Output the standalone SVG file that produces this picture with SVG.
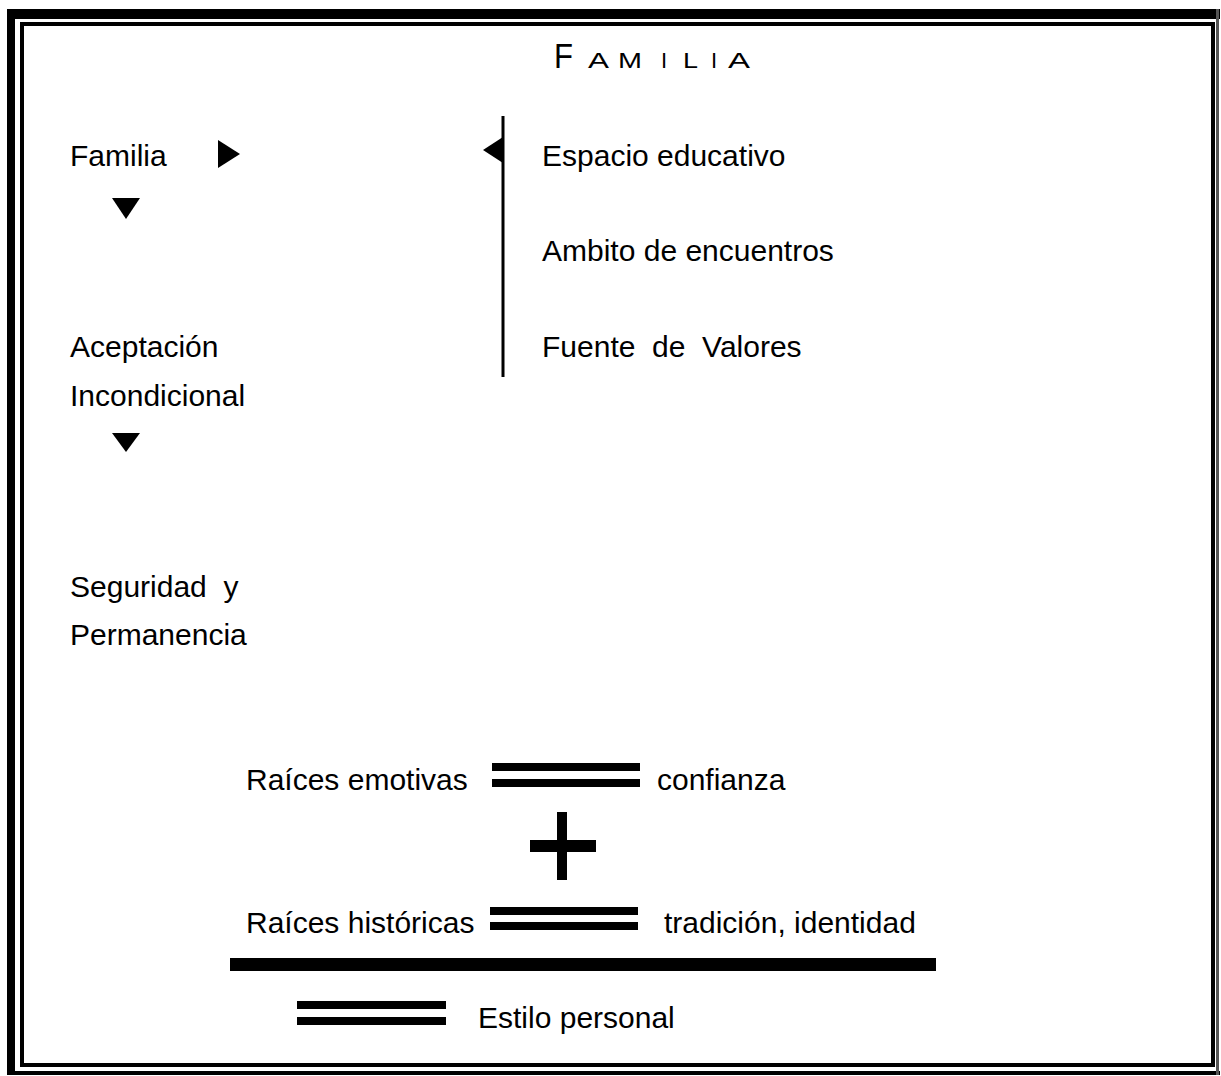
<svg xmlns="http://www.w3.org/2000/svg" width="1221" height="1076" viewBox="0 0 1221 1076">
<style>
text{font-family:"Liberation Sans",Arial,sans-serif;fill:#000}
.t{font-size:30px;white-space:pre}
.cap{font-size:22px}
.bar{fill:#000}
.tri{fill:#000}
</style>
<rect width="1221" height="1076" fill="#fff"/>
<g id="frame">
<rect x="7" y="9" width="1213" height="10" fill="#000"/>
<rect x="7" y="9" width="8" height="1066" fill="#000"/>
<rect x="7" y="1071" width="1213" height="4" fill="#000"/>
<rect x="1216" y="9" width="3" height="1066" fill="#555"/>
<rect x="22" y="24" width="1191" height="1041" fill="none" stroke="#000" stroke-width="4"/>
</g>
<g id="title">
<text x="554" y="68" font-size="35" textLength="19" lengthAdjust="spacingAndGlyphs">F</text>
<text class="cap" x="588" y="68" textLength="21" lengthAdjust="spacingAndGlyphs">A</text>
<text class="cap" x="618" y="68" textLength="24" lengthAdjust="spacingAndGlyphs">M</text>
<text class="cap" x="661" y="68">I</text>
<text class="cap" x="683" y="68" textLength="15" lengthAdjust="spacingAndGlyphs">L</text>
<text class="cap" x="711" y="68">I</text>
<text class="cap" x="728" y="68" textLength="22" lengthAdjust="spacingAndGlyphs">A</text>
</g>
<g id="n-familia"><text class="t" x="70" y="166">Familia</text></g>
<g id="n-aceptacion"><text class="t" x="70" y="357">Aceptación</text><text class="t" x="70" y="406">Incondicional</text></g>
<g id="n-seguridad"><text class="t" x="70" y="597">Seguridad  y</text><text class="t" x="70" y="645">Permanencia</text></g>
<g id="n-espacio"><text class="t" x="542" y="166">Espacio educativo</text></g>
<g id="n-ambito"><text class="t" x="542" y="261">Ambito de encuentros</text></g>
<g id="n-fuente"><text class="t" x="542" y="357">Fuente  de  Valores</text></g>
<g id="n-raices-emotivas"><text class="t" x="246" y="790">Raíces emotivas</text></g>
<g id="n-confianza"><text class="t" x="657" y="790">confianza</text></g>
<g id="n-raices-historicas"><text class="t" x="246" y="933">Raíces históricas</text></g>
<g id="n-tradicion"><text class="t" x="664" y="933">tradición, identidad</text></g>
<g id="n-estilo"><text class="t" x="478" y="1028">Estilo personal</text></g>
<g id="connectors">
<polygon class="tri" points="218,140 240,154 218,168"/>
<polygon class="tri" points="112,198 140,198 126,219"/>
<polygon class="tri" points="112,433 140,433 126,452"/>
<rect x="501.5" y="116" width="3" height="261" fill="#000"/>
<polygon class="tri" points="503,137 483,150 503,163"/>
<rect class="bar" x="492" y="763" width="148" height="8"/>
<rect class="bar" x="492" y="779" width="148" height="8"/>
<rect class="bar" x="557" y="812" width="10" height="68"/>
<rect class="bar" x="530" y="840" width="66" height="12"/>
<rect class="bar" x="490" y="907" width="148" height="8"/>
<rect class="bar" x="490" y="922" width="148" height="8"/>
<rect class="bar" x="230" y="958" width="706" height="13"/>
<rect class="bar" x="297" y="1001" width="149" height="8"/>
<rect class="bar" x="297" y="1017" width="149" height="8"/>
</g>
</svg>
